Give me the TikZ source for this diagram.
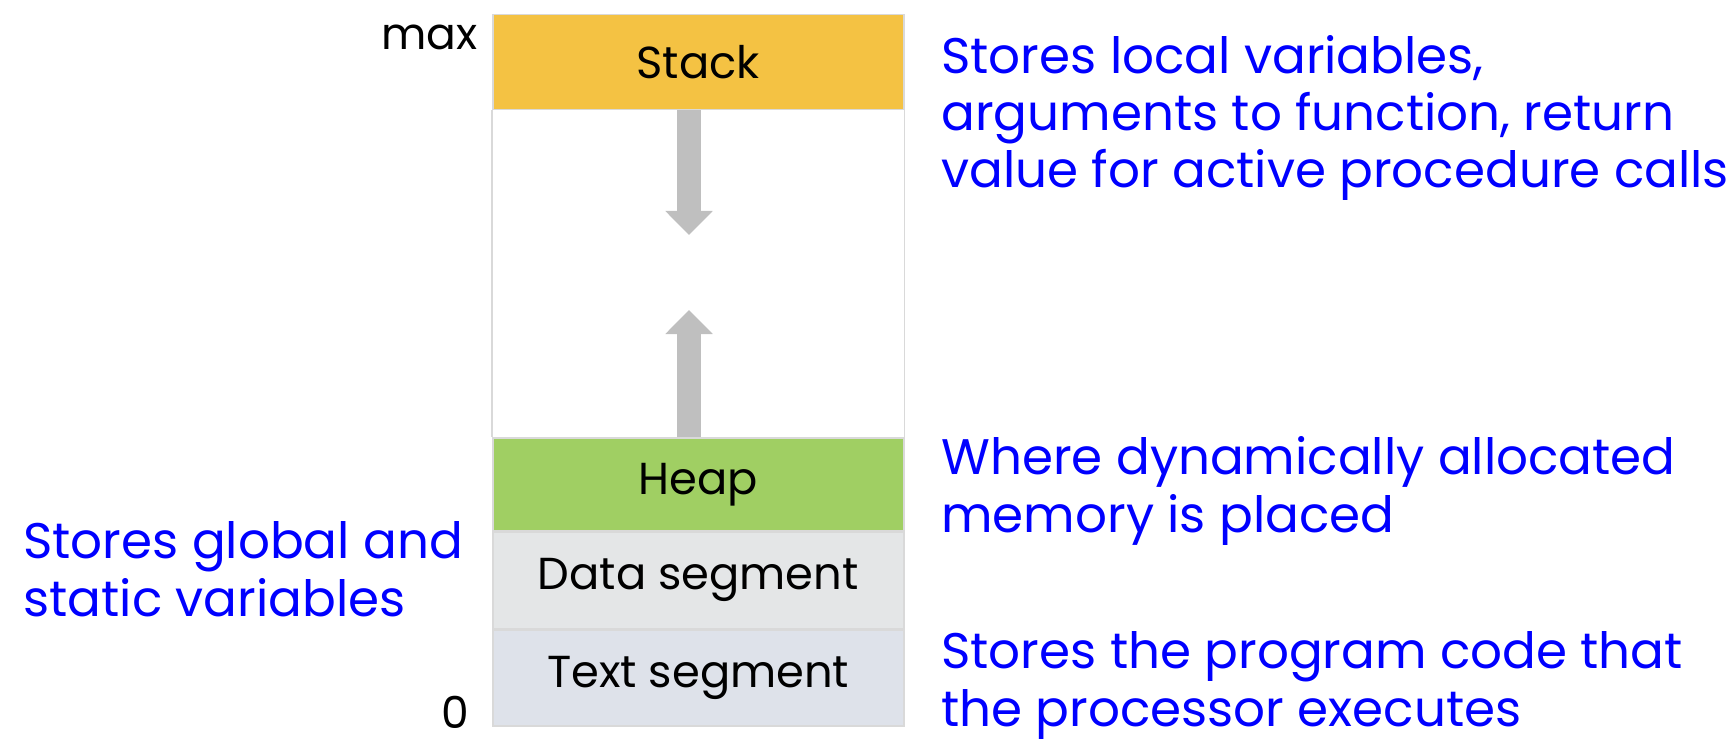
\documentclass[tikz,border=0pt]{standalone}
\usepackage{fontspec}
\setmainfont{Poppins}
\usetikzlibrary{arrows.meta,positioning}

\definecolor{stackcol}{RGB}{244,194,67}
\definecolor{heapcol}{RGB}{160,207,99}
\definecolor{datacol}{RGB}{228,230,231}
\definecolor{textcol}{RGB}{222,226,234}
\definecolor{framecol}{RGB}{217,217,217}
\definecolor{arrowcol}{RGB}{191,191,191}
\definecolor{notecol}{RGB}{0,0,255}

\tikzset{
  seg/.style={draw=framecol, line width=0.75pt, minimum width=205.5pt, inner sep=0pt, anchor=north west, font=\fontsize{22.4}{26}\selectfont},
  note/.style={text=notecol, align=left, inner sep=0pt, anchor=base west, font=\fontsize{25}{28.7}\selectfont},
  addr/.style={anchor=base east, inner sep=0pt, font=\fontsize{22}{26}\selectfont},
  growarrow/.style={arrowcol, line width=12pt, -{Triangle[width=23pt,length=12pt]}},
}

\begin{document}
\begin{tikzpicture}[x=0.5pt,y=-0.5pt]
    \useasboundingbox (0,0) rectangle (1732,748);

    % Draw the memory segments
    \node[seg, fill=stackcol, minimum height=47.5pt] (stack) at (492,14) {Stack};
    \node[seg, fill=heapcol, minimum height=46.5pt] (heap) at (492,437) {Heap};
    \node[seg, fill=datacol, minimum height=48pt, below=0pt of heap] (data) {Data segment};
    \node[seg, fill=textcol, minimum height=48pt, below=0pt of data] (text) {Text segment};

    % Free space between stack and heap
    \draw[framecol, line width=0.75pt] (stack.south west) -- (heap.north west)
        (stack.south east) -- (heap.north east);

    % Growth arrows
    \coordinate (downtip) at (689,235);
    \coordinate (uptip) at (689,310);
    \draw[growarrow] (stack.south -| downtip) -- (downtip);
    \draw[growarrow] (heap.north -| uptip) -- (uptip);

    % Addresses
    \node[addr] (maxaddr) at (478,50) {max};
    \node[addr] (zeroaddr) at (470,728) {0};

    % Notes (placed by the baseline of their last line)
    \node[note] (stacknote) at (941,188) {Stores local variables,\\arguments to function, return\\value for active procedure calls};
    \node[note] (heapnote) at (941,532) {Where dynamically allocated\\memory is placed};
    \node[note] (textnote) at (941,726) {Stores the program code that\\the processor executes};
    \node[note] (datanote) at (23,616) {Stores global and\\static variables};

\end{tikzpicture}
\end{document}
